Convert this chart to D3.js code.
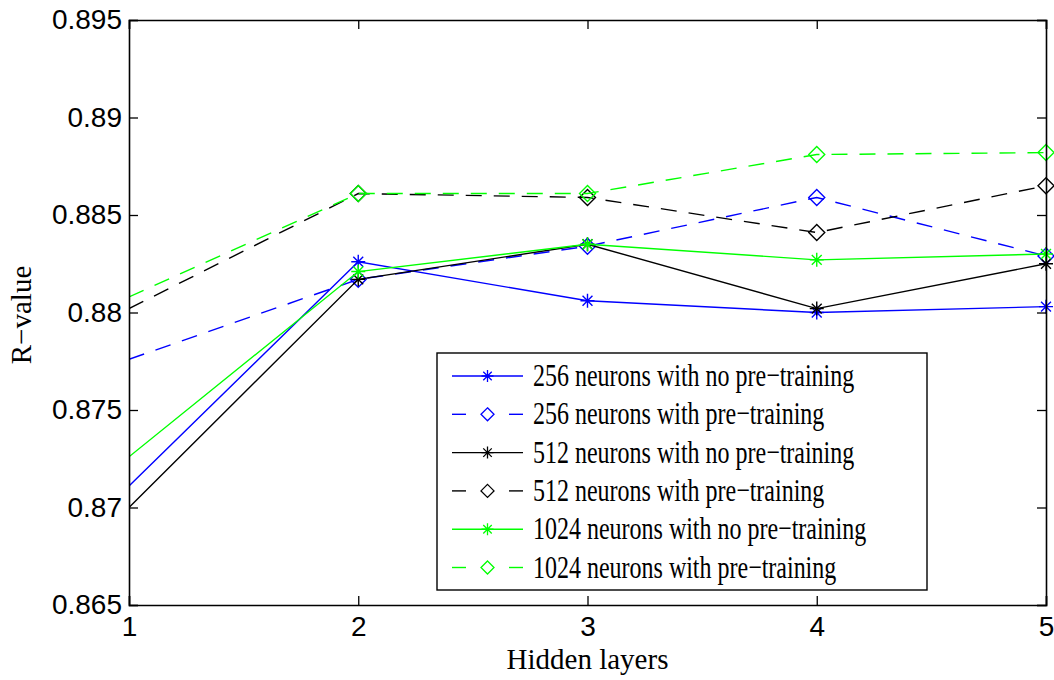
<!DOCTYPE html>
<html lang="en">
  <head>
    <meta charset="utf-8" />
    <script type="text/javascript" src="https://d3js.org/d3.v7.min.js"></script>
    <style>
      body { margin: 0; background: #fff; }
    </style>
  </head>

  <body>
    <script type="text/javascript">
      let w = 1054;
      let h = 680;

      // data
      let layers = [1, 2, 3, 4, 5];
      let yTicks = [0.865, 0.87, 0.875, 0.88, 0.885, 0.89, 0.895];
      let names = [
        "256 neurons with no pre\u2212training",
        "256 neurons with pre\u2212training",
        "512 neurons with no pre\u2212training",
        "512 neurons with pre\u2212training",
        "1024 neurons with no pre\u2212training",
        "1024 neurons with pre\u2212training",
      ];
      let colors = ["#0000ff", "#0000ff", "#000000", "#000000", "#00ff00", "#00ff00"];
      let pretrained = [false, true, false, true, false, true];
      let r256 = [0.8711, 0.8826, 0.8806, 0.88, 0.8803];
      let r256pre = [0.8776, 0.8817, 0.8834, 0.8859, 0.8829];
      let r512 = [0.87, 0.8817, 0.8835, 0.8802, 0.8825];
      let r512pre = [0.8802, 0.8861, 0.8859, 0.8841, 0.8865];
      let r1024 = [0.8726, 0.8821, 0.8835, 0.8827, 0.883];
      let r1024pre = [0.8808, 0.8861, 0.8861, 0.8881, 0.8882];
      let allSeries = [r256, r256pre, r512, r512pre, r1024, r1024pre];

      let pLeft = 129, pRight = 1046, pTop = 20, pBottom = 605;

      let x = d3.scaleLinear().domain([1, 5]).range([pLeft, pRight]);
      let y = d3.scaleLinear().domain([0.865, 0.895]).range([pBottom, pTop]);

      let svg = d3
        .select("body")
        .append("svg")
        .attr("width", w)
        .attr("height", h);

      // clip lines to the plot box
      svg.append("clipPath").attr("id", "plotclip")
        .append("rect")
        .attr("x", pLeft).attr("y", pTop)
        .attr("width", pRight - pLeft + 20).attr("height", pBottom - pTop);

      let line = d3.line()
        .x((d, i) => x(layers[i]))
        .y((d) => y(d));

      let star = (s) => {
        let a = s * 0.7071;
        return "M" + -s + ",0L" + s + ",0M0," + -s + "L0," + s +
          "M" + -a + "," + -a + "L" + a + "," + a +
          "M" + -a + "," + a + "L" + a + "," + -a;
      };
      let diamond = (s) =>
        "M0," + -s + "L" + s + ",0L0," + s + "L" + -s + ",0Z";

      let plot = svg.append("g").attr("clip-path", "url(#plotclip)");

      allSeries.forEach((vals, k) => {
        plot.append("path")
          .datum(vals)
          .attr("d", line)
          .attr("fill", "none")
          .attr("stroke", colors[k])
          .attr("stroke-width", 1.4)
          .attr("stroke-dasharray", pretrained[k] ? "16,12" : null);

        // the first layer's markers sit outside the visible axes in the original
        plot.selectAll(".m" + k)
          .data(vals.slice(1))
          .join("path")
          .attr("class", "m" + k)
          .attr("transform", (d, i) => "translate(" + x(layers[i + 1]) + "," + y(d) + ")")
          .attr("d", pretrained[k] ? diamond(8) : star(7))
          .attr("fill", "none")
          .attr("stroke", colors[k])
          .attr("stroke-width", 1.4);
      });

      // axes (ticks point inward, box style)
      let fmt = (d) => String(+d.toFixed(3));
      svg.append("g")
        .attr("transform", "translate(0," + pBottom + ")")
        .call(d3.axisBottom(x).tickValues(layers).tickSize(-9).tickPadding(11).tickFormat(d3.format("d")));
      svg.append("g")
        .attr("transform", "translate(0," + pTop + ")")
        .call(d3.axisTop(x).tickValues(layers).tickSize(-9).tickFormat(""));
      svg.append("g")
        .attr("transform", "translate(" + pLeft + ",0)")
        .call(d3.axisLeft(y).tickValues(yTicks).tickSize(-9).tickPadding(7).tickFormat(fmt));
      svg.append("g")
        .attr("transform", "translate(" + pRight + ",0)")
        .call(d3.axisRight(y).tickValues(yTicks).tickSize(-9).tickFormat(""));

      svg.selectAll(".domain").attr("stroke", "#000").attr("stroke-width", 1.6);
      svg.selectAll(".tick line").attr("stroke", "#000").attr("stroke-width", 1.3);
      svg.selectAll(".tick text")
        .attr("font-family", "Liberation Sans, Arial, sans-serif")
        .attr("font-size", "28px")
        .attr("fill", "#000");

      // axis labels
      svg.append("text")
        .attr("x", (pLeft + pRight) / 2)
        .attr("y", 669)
        .attr("text-anchor", "middle")
        .attr("font-family", "Liberation Serif, Times New Roman, serif")
        .attr("font-size", "29px")
        .text("Hidden layers");

      svg.append("text")
        .attr("transform", "translate(31,315) rotate(-90)")
        .attr("text-anchor", "middle")
        .attr("font-family", "Liberation Serif, Times New Roman, serif")
        .attr("font-size", "29px")
        .text("R\u2212value");

      // legend
      let lg = svg.append("g");
      lg.append("rect")
        .attr("x", 437).attr("y", 353)
        .attr("width", 490).attr("height", 237)
        .attr("fill", "#fff")
        .attr("stroke", "#000")
        .attr("stroke-width", 1.4);

      let rowY = (i) => 376 + i * 38.3;
      names.forEach((name, k) => {
        let g = lg.append("g").attr("transform", "translate(0," + rowY(k) + ")");
        let segs = pretrained[k] ? [[452, 466], [509, 523]] : [[452, 523]];
        segs.forEach((s) => {
          g.append("line")
            .attr("x1", s[0]).attr("x2", s[1])
            .attr("y1", 0).attr("y2", 0)
            .attr("stroke", colors[k])
            .attr("stroke-width", 1.4);
        });
        g.append("path")
          .attr("transform", "translate(487.5,0)")
          .attr("d", pretrained[k] ? diamond(6.5) : star(6))
          .attr("fill", "none")
          .attr("stroke", colors[k])
          .attr("stroke-width", 1.3);
        g.append("text")
          .attr("transform", "translate(533,10) scale(1,1.33)")
          .attr("font-family", "Liberation Serif, Times New Roman, serif")
          .attr("font-size", "24px")
          .attr("fill", "#000")
          .text(name);
      });
    </script>
  </body>
</html>
